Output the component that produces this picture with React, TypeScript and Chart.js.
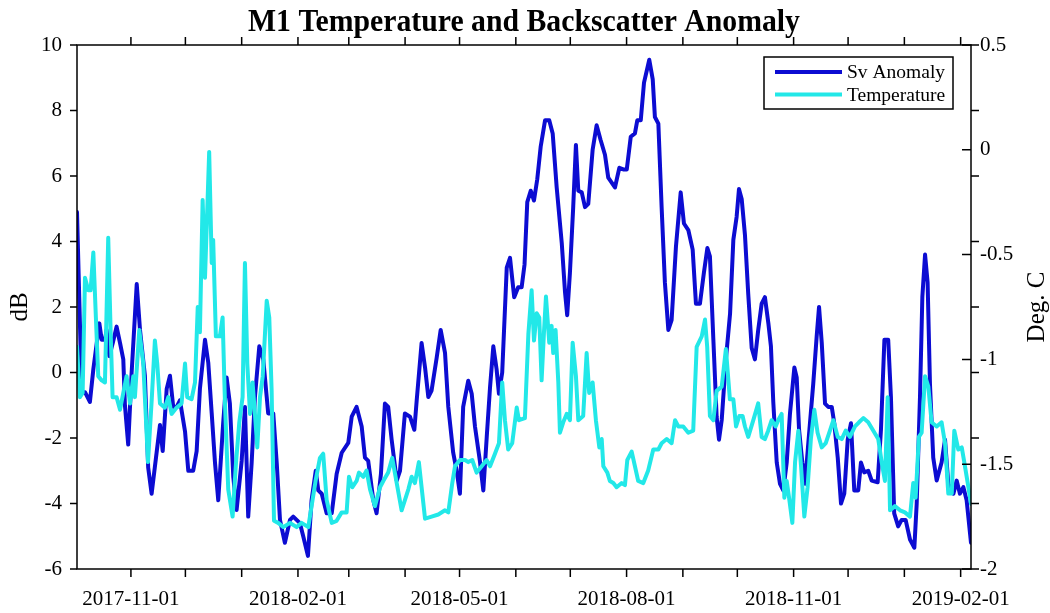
import React, { useEffect, useRef } from 'react';
import { Chart, registerables } from 'chart.js';

Chart.register(...registerables);

// Days are counted from 2017-10-01 (day 0)
const BASE_DATE = Date.UTC(2017, 9, 1);
const X_MIN = 1.3;
const X_MAX = 493.7;

const svDays = [
  1.3, 3.9, 5.7, 8.4, 10.3, 13.6, 14.9, 16.7, 17.6, 19.1, 21.0, 23.1, 25.0, 26.8, 27.7, 29.5, 31.4, 34.2, 36.0, 38.7,
  40.5, 42.4, 44.8, 47.0, 48.5, 50.7, 52.5, 54.3, 56.2, 58.0, 60.8, 62.6, 65.3, 67.2, 69.0, 71.8, 73.6, 75.5, 77.3, 79.1,
  81.8, 83.7, 85.5, 87.4, 89.2, 92.0, 93.8, 95.6, 97.5, 99.3, 101.7, 103.9, 105.8, 106.6, 109.4, 111.3, 113.1, 115.8, 118.6, 120.4,
  124.1, 125.9, 128.5, 130.5, 132.8, 134.2, 136.1, 138.8, 141.6, 144.3, 147.1, 150.7, 152.6, 155.3, 158.1, 159.9, 161.7, 164.5, 166.3, 168.7,
  170.9, 172.7, 174.6, 177.4, 179.2, 181.9, 184.7, 187.1, 188.4, 191.1, 193.0, 194.8, 196.6, 199.4, 201.6, 204.0, 205.8, 208.5, 210.4, 212.2,
  214.0, 216.8, 218.7, 220.5, 223.2, 225.1, 227.0, 228.8, 230.6, 232.4, 233.7, 235.5, 238.0, 239.8, 242.1, 244.3, 246.2, 247.8, 249.3, 251.2,
  253.0, 254.8, 256.7, 259.1, 261.4, 263.3, 265.5, 268.3, 270.1, 271.3, 272.8, 274.6, 276.1, 277.4, 279.3, 281.1, 282.9, 285.3, 287.5, 289.7,
  292.1, 293.9, 295.8, 297.6, 300.0, 302.2, 304.1, 306.3, 308.6, 309.9, 311.8, 313.6, 316.5, 318.4, 319.6, 321.5, 323.3, 325.1, 327.0, 328.8,
  331.2, 333.8, 335.6, 338.0, 340.4, 342.2, 344.4, 346.6, 348.5, 349.9, 351.8, 353.6, 354.9, 356.4, 358.7, 361.0, 362.8, 364.6, 365.9, 367.4,
  369.2, 371.0, 372.9, 374.7, 376.5, 378.4, 380.2, 382.1, 383.5, 384.8, 386.7, 388.5, 390.3, 392.2, 394.0, 396.4, 397.7, 399.0, 400.8, 402.3,
  404.1, 406.8, 408.7, 410.0, 411.5, 413.3, 415.1, 417.0, 418.4, 420.3, 422.1, 423.9, 425.8, 427.6, 429.4, 431.6, 433.1, 434.9, 437.1, 439.0,
  442.3, 444.1, 446.0, 448.1, 449.6, 451.4, 453.6, 455.5, 457.7, 460.1, 462.5, 463.8, 465.6, 466.9, 468.4, 469.8, 471.1, 472.9, 474.8, 477.5,
  479.4, 481.2, 484.0, 485.8, 487.6, 489.5, 491.3, 493.7,
];
const svValues = [
  4.9, -0.6, -0.6, -0.9, 0.1, 1.5, 1.0, 1.0, 1.3, 0.5, 0.9, 1.4, 0.9, 0.4, -1.0, -2.2, 0.0, 2.7, 1.3, -0.1,
  -2.9, -3.7, -2.6, -1.6, -2.4, -0.5, -0.1, -1.05, -1.05, -0.85, -1.8, -3.0, -3.0, -2.4, -0.5, 1.0, 0.3, -1.25, -2.75, -3.9,
  -1.55, -0.15, -0.95, -3.2, -4.2, -2.7, -1.05, -4.4, -2.75, -0.75, 0.8, 0.4, -0.75, -1.25, -1.25, -2.75, -4.5, -5.2, -4.5, -4.4,
  -4.6, -5.0, -5.6, -3.9, -3.0, -3.6, -3.7, -4.3, -4.3, -3.1, -2.45, -2.15, -1.35, -1.05, -1.65, -2.6, -2.7, -3.9, -4.3, -3.1,
  -0.95, -1.05, -2.05, -3.3, -3.0, -1.25, -1.35, -1.75, -0.85, 0.9, 0.15, -0.75, -0.55, 0.45, 1.3, 0.6, -1.05, -2.45, -3.0, -3.7,
  -1.05, -0.25, -0.65, -1.65, -2.7, -3.6, -1.95, -0.45, 0.8, 0.1, -0.65, 0.0, 3.2, 3.5, 2.3, 2.6, 2.6, 3.3, 5.2, 5.55,
  5.25, 5.9, 6.9, 7.7, 7.7, 7.3, 5.65, 3.95, 2.45, 1.75, 3.05, 5.05, 6.95, 5.55, 5.5, 5.05, 5.15, 6.8, 7.55, 7.1,
  6.65, 5.95, 5.8, 5.65, 6.25, 6.2, 6.2, 7.2, 7.3, 7.7, 7.7, 8.85, 9.55, 8.95, 7.8, 7.6, 5.05, 2.75, 1.3, 1.6,
  3.85, 5.5, 4.55, 4.35, 3.75, 2.1, 2.1, 3.05, 3.8, 3.55, 1.0, -1.35, -2.05, -1.45, 0.4, 1.8, 4.05, 4.75, 5.6, 5.3,
  4.2, 2.4, 0.75, 0.4, 1.3, 2.1, 2.3, 1.5, 0.8, -0.9, -2.75, -3.4, -3.6, -2.75, -1.25, 0.15, -0.15, -1.75, -2.75, -3.4,
  -2.15, -0.35, 1.1, 2.0, 0.9, -0.95, -1.05, -1.05, -1.55, -2.6, -4.0, -3.7, -2.05, -1.55, -3.6, -3.6, -2.75, -3.05, -3.0, -3.3,
  -3.35, -1.75, 1.0, 1.0, -0.75, -4.3, -4.7, -4.5, -4.5, -5.1, -5.35, -4.0, -0.75, 2.3, 3.6, 2.75, -0.35, -2.6, -3.3, -2.75,
  -2.05, -3.4, -3.7, -3.3, -3.7, -3.5, -3.9, -5.2,
];

const tempDays = [
  1.3, 2.9, 4.4, 5.7, 7.5, 8.8, 10.3, 11.7, 13.0, 14.9, 16.7, 18.5, 19.8, 20.9, 23.1, 25.0, 26.8, 28.6, 30.5, 32.3,
  33.2, 35.6, 37.8, 40.4, 42.4, 44.2, 45.5, 47.0, 49.7, 51.6, 53.4, 56.2, 58.9, 60.8, 62.0, 64.4, 66.3, 67.8, 69.0, 70.5,
  71.8, 73.0, 74.1, 75.5, 76.3, 77.8, 80.0, 81.5, 82.8, 84.6, 87.0, 88.9, 90.7, 92.5, 93.8, 95.1, 96.6, 98.0, 99.3, 100.6,
  102.1, 103.6, 105.8, 107.2, 108.5, 109.8, 112.1, 114.9, 118.6, 122.3, 125.0, 128.7, 130.5, 132.7, 135.1, 136.9, 138.8, 141.6, 144.3, 147.1,
  149.8, 151.1, 152.9, 155.3, 156.6, 159.0, 160.8, 162.7, 165.4, 168.2, 170.0, 172.7, 174.9, 177.4, 180.1, 183.8, 185.6, 187.4, 189.6, 191.1,
  193.0, 196.6, 200.3, 204.0, 205.8, 208.0, 209.5, 212.2, 215.0, 216.8, 219.0, 221.4, 224.2, 226.9, 228.8, 231.5, 233.7, 235.5, 237.0, 238.8,
  241.0, 243.5, 244.7, 248.0, 249.9, 251.7, 253.0, 254.5, 255.9, 257.2, 258.5, 259.6, 261.4, 262.7, 263.6, 264.9, 266.4, 267.3, 269.1, 271.0,
  272.8, 274.3, 276.1, 277.4, 280.1, 282.0, 283.4, 285.3, 287.1, 289.0, 290.3, 291.2, 293.4, 294.8, 296.7, 298.5, 301.3, 303.1, 304.4, 306.8,
  308.6, 310.4, 313.2, 315.9, 318.7, 321.5, 323.3, 326.1, 328.8, 330.7, 332.5, 335.2, 338.0, 340.7, 342.6, 345.4, 347.2, 348.4, 349.9, 351.8,
  353.6, 356.4, 358.7, 360.9, 362.8, 364.3, 366.1, 367.9, 369.2, 371.0, 373.8, 376.5, 378.4, 380.2, 382.0, 383.9, 386.1, 387.5, 389.4, 390.9,
  392.2, 393.5, 395.3, 396.8, 398.6, 400.1, 401.9, 403.7, 405.5, 407.4, 409.2, 411.5, 413.7, 416.0, 417.9, 420.3, 422.5, 424.7, 427.0, 429.8,
  432.0, 434.4, 437.1, 439.9, 442.6, 444.5, 446.3, 447.8, 449.1, 451.8, 454.6, 457.3, 460.1, 461.9, 463.2, 465.0, 466.5, 468.4, 470.2, 472.0,
  474.8, 477.5, 479.4, 481.2, 483.1, 484.5, 486.7, 488.6, 490.0, 491.9, 493.7,
];
const tempValues = [
  -0.94, -1.18, -1.16, -0.61, -0.67, -0.67, -0.49, -0.8, -1.08, -1.1, -1.11, -0.42, -0.86, -1.18, -1.18, -1.24, -1.16, -1.08, -1.21, -1.08,
  -1.18, -0.86, -1.02, -1.49, -1.2, -0.91, -1.02, -1.21, -1.23, -1.18, -1.26, -1.23, -1.21, -1.02, -1.18, -1.19, -1.11, -0.75, -0.87, -0.24,
  -0.61, -0.3, -0.01, -0.54, -0.43, -0.89, -0.89, -0.8, -1.21, -1.62, -1.75, -1.49, -1.3, -1.18, -0.54, -1.02, -1.26, -1.11, -1.26, -1.42,
  -1.18, -1.08, -0.72, -0.8, -1.15, -1.77, -1.78, -1.8, -1.78, -1.8, -1.78, -1.8, -1.7, -1.58, -1.47, -1.45, -1.67, -1.78, -1.77, -1.73,
  -1.73, -1.56, -1.61, -1.58, -1.54, -1.56, -1.53, -1.62, -1.7, -1.61, -1.58, -1.54, -1.47, -1.59, -1.72, -1.62, -1.56, -1.59, -1.49, -1.61,
  -1.76, -1.75, -1.74, -1.72, -1.73, -1.59, -1.51, -1.48, -1.48, -1.49, -1.48, -1.54, -1.51, -1.48, -1.51, -1.45, -1.4, -1.11, -1.29, -1.43,
  -1.4, -1.23, -1.29, -1.28, -0.88, -0.67, -0.91, -0.78, -0.8, -1.1, -0.87, -0.7, -0.92, -0.84, -0.97, -0.86, -1.11, -1.35, -1.3, -1.26,
  -1.29, -0.92, -1.08, -1.29, -1.27, -0.97, -1.16, -1.11, -1.29, -1.42, -1.38, -1.51, -1.54, -1.58, -1.59, -1.61, -1.59, -1.6, -1.48, -1.44,
  -1.51, -1.58, -1.59, -1.53, -1.43, -1.43, -1.4, -1.38, -1.4, -1.29, -1.32, -1.32, -1.35, -1.34, -0.94, -0.89, -0.81, -0.94, -1.27, -1.29,
  -1.15, -1.13, -0.95, -1.19, -1.19, -1.32, -1.27, -1.27, -1.32, -1.37, -1.29, -1.21, -1.37, -1.38, -1.34, -1.29, -1.32, -1.29, -1.26, -1.66,
  -1.58, -1.66, -1.78, -1.49, -1.34, -1.51, -1.75, -1.61, -1.38, -1.24, -1.35, -1.42, -1.4, -1.34, -1.29, -1.37, -1.38, -1.34, -1.37, -1.32,
  -1.3, -1.28, -1.3, -1.34, -1.38, -1.49, -1.58, -1.18, -1.72, -1.7, -1.72, -1.73, -1.75, -1.59, -1.66, -1.37, -1.35, -1.08, -1.13, -1.3,
  -1.32, -1.3, -1.4, -1.64, -1.64, -1.34, -1.43, -1.42, -1.49, -1.59, -1.69,
];

const dbTicks = [-6, -4, -2, 0, 2, 4, 6, 8, 10];
const degTicks = [-2, -1.5, -1, -0.5, 0, 0.5];
const monthTickDays = [31, 61, 92, 123, 151, 182, 212, 243, 273, 304, 335, 365, 396, 426, 457, 488];
const dateTickLabels = ['2017-11-01', '2018-02-01', '2018-05-01', '2018-08-01', '2018-11-01', '2019-02-01'];

const TITLE = 'M1 Temperature and Backscatter Anomaly';
const LEFT_TITLE = 'dB';
const RIGHT_TITLE = 'Deg. C';
const SV_LABEL = 'Sv Anomaly';
const TEMP_LABEL = 'Temperature';

const SERIF = "'Liberation Serif', 'Times New Roman', serif";
const BLUE = '#0c0cd2';
const CYAN = '#22e8e8';

const dayToIso = (d: number) => new Date(BASE_DATE + Math.round(d) * 86400000).toISOString().slice(0, 10);

const framePlugin = {
  id: 'matlabFrame',
  afterDraw(chart: any) {
    const { ctx, chartArea: a, scales } = chart;
    ctx.save();

    // title (slightly condensed bold serif, centred over the plot)
    ctx.save();
    ctx.font = `bold 32px ${SERIF}`;
    ctx.fillStyle = '#000';
    ctx.textAlign = 'center';
    ctx.textBaseline = 'alphabetic';
    const natural = ctx.measureText(TITLE).width;
    const sx = Math.min(1, 552 / natural);
    ctx.translate((a.left + a.right) / 2, 31);
    ctx.scale(sx, 1);
    ctx.fillText(TITLE, 0, 0);
    ctx.restore();

    ctx.strokeStyle = '#000';
    ctx.lineWidth = 1.5;
    ctx.strokeRect(a.left, a.top, a.right - a.left, a.bottom - a.top);
    ctx.beginPath();
    for (const v of dbTicks) {
      const y = scales.y.getPixelForValue(v);
      ctx.moveTo(a.left - 7, y);
      ctx.lineTo(a.left, y);
      ctx.moveTo(a.right, y);
      ctx.lineTo(a.right + 8, y);
    }
    for (const v of degTicks) {
      const y = scales.y1.getPixelForValue(v);
      ctx.moveTo(a.right - 9, y);
      ctx.lineTo(a.right, y);
    }
    for (const d of monthTickDays) {
      const x = scales.x.getPixelForValue(d);
      ctx.moveTo(x, a.top - 8);
      ctx.lineTo(x, a.top);
      ctx.moveTo(x, a.bottom);
      ctx.lineTo(x, a.bottom + 8);
    }
    ctx.stroke();

    // right axis title (reads bottom to top)
    ctx.save();
    ctx.translate(1037, (a.top + a.bottom) / 2);
    ctx.rotate(-Math.PI / 2);
    ctx.fillStyle = '#000';
    ctx.font = `25px ${SERIF}`;
    ctx.textAlign = 'center';
    ctx.textBaseline = 'middle';
    ctx.fillText(RIGHT_TITLE, 0, 0);
    ctx.restore();

    // legend box inside the plot
    const bx = 764, by = 57, bw = 189, bh = 52;
    ctx.fillStyle = '#fff';
    ctx.fillRect(bx, by, bw, bh);
    ctx.lineWidth = 1.5;
    ctx.strokeStyle = '#000';
    ctx.strokeRect(bx, by, bw, bh);
    ctx.font = `19.5px ${SERIF}`;
    ctx.textAlign = 'left';
    ctx.textBaseline = 'middle';
    chart.data.datasets.forEach((ds: any, i: number) => {
      const y = by + 15 + i * 22.5;
      ctx.strokeStyle = ds.borderColor;
      ctx.lineWidth = 4;
      ctx.beginPath();
      ctx.moveTo(775, y);
      ctx.lineTo(842, y);
      ctx.stroke();
      ctx.fillStyle = '#000';
      ctx.fillText(ds.label, 847, y + 1);
    });
    ctx.restore();
  },
};

export default function App() {
  const canvasRef = useRef<HTMLCanvasElement | null>(null);

  useEffect(() => {
    if (!canvasRef.current) return;
    const chart = new Chart(canvasRef.current, {
      type: 'line',
      data: {
        datasets: [
          {
            label: SV_LABEL,
            data: svDays.map((d, i) => ({ x: d, y: svValues[i] })),
            borderColor: BLUE,
            backgroundColor: BLUE,
            borderWidth: 4,
            pointRadius: 0,
            tension: 0,
            borderJoinStyle: 'round',
            borderCapStyle: 'round',
            yAxisID: 'y',
            order: 2,
          },
          {
            label: TEMP_LABEL,
            data: tempDays.map((d, i) => ({ x: d, y: tempValues[i] })),
            borderColor: CYAN,
            backgroundColor: CYAN,
            borderWidth: 4,
            pointRadius: 0,
            tension: 0,
            borderJoinStyle: 'round',
            borderCapStyle: 'round',
            yAxisID: 'y1',
            order: 1,
          },
        ],
      },
      options: {
        responsive: false,
        animation: false,
        devicePixelRatio: 1,
        layout: { padding: { top: 45, left: 0, right: 0, bottom: 0 } },
        plugins: {
          legend: { display: false },
          tooltip: { enabled: false },
          title: { display: false },
        },
        scales: {
          x: {
            type: 'linear',
            min: X_MIN,
            max: X_MAX,
            grid: { display: false, drawTicks: false },
            border: { display: false },
            afterBuildTicks: (scale: any) => {
              scale.ticks = monthTickDays.map((v) => ({ value: v }));
            },
            afterFit: (scale: any) => {
              scale.height = 44;
            },
            ticks: {
              autoSkip: false,
              maxRotation: 0,
              minRotation: 0,
              padding: 18,
              color: '#000',
              font: { family: SERIF, size: 21 },
              callback: (v: any) => {
                const iso = dayToIso(Number(v));
                return dateTickLabels.includes(iso) ? iso : '';
              },
            },
          },
          y: {
            type: 'linear',
            position: 'left',
            min: -6,
            max: 10,
            grid: { display: false, drawTicks: false },
            border: { display: false },
            afterBuildTicks: (scale: any) => {
              scale.ticks = dbTicks.map((v) => ({ value: v }));
            },
            afterFit: (scale: any) => {
              scale.width = 77;
            },
            ticks: {
              padding: 15,
              color: '#000',
              font: { family: SERIF, size: 21 },
              callback: (v: any) => String(v),
            },
            title: {
              display: true,
              text: LEFT_TITLE,
              color: '#000',
              font: { family: SERIF, size: 25, lineHeight: 1.2 },
              padding: { top: 5, bottom: 0 },
            },
          },
          y1: {
            type: 'linear',
            position: 'right',
            min: -2,
            max: 0.5,
            grid: { display: false, drawTicks: false },
            border: { display: false },
            afterBuildTicks: (scale: any) => {
              scale.ticks = degTicks.map((v) => ({ value: v }));
            },
            afterFit: (scale: any) => {
              scale.width = 79;
            },
            ticks: {
              padding: 9,
              color: '#000',
              font: { family: SERIF, size: 21 },
              callback: (v: any) => String(v),
            },
          },
        },
      },
      plugins: [framePlugin],
    } as any);
    return () => chart.destroy();
  }, []);

  return (
    <div style={{ position: 'absolute', left: 0, top: 0, width: 1050, height: 613, background: '#fff' }}>
      <canvas ref={canvasRef} width={1050} height={613} />
    </div>
  );
}
